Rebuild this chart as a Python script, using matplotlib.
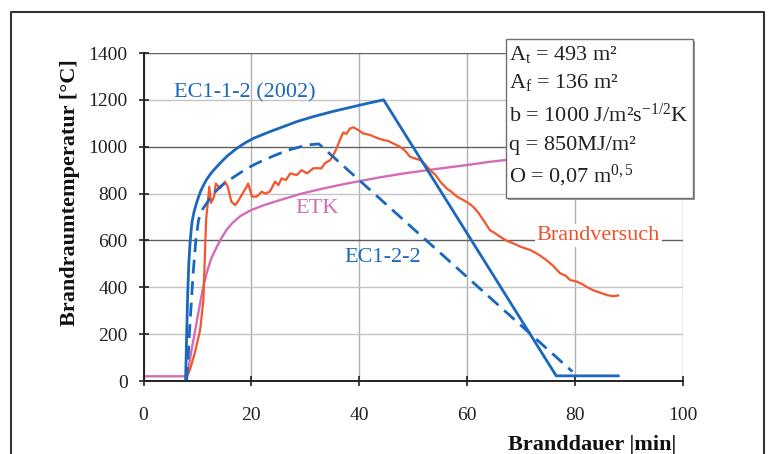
import matplotlib
matplotlib.use("Agg")
import matplotlib.pyplot as plt
from matplotlib.patches import Rectangle
from matplotlib.lines import Line2D

plt.rcParams['font.family'] = ['Liberation Serif', 'DejaVu Serif']
plt.rcParams['mathtext.fontset'] = 'custom'
plt.rcParams['mathtext.rm'] = 'Liberation Serif'
plt.rcParams['mathtext.it'] = 'Liberation Serif:italic'
plt.rcParams['mathtext.bf'] = 'Liberation Serif:bold'
plt.rcParams['lines.scale_dashes'] = False

# ---------------- data ----------------
etk_t = [0, 8, 8.3, 8.6, 9.0, 9.5, 10.0, 10.5, 11.1, 11.7, 12.5, 13.6, 14.5, 15.4, 16.5, 18,
         20, 22.5, 25, 29, 33, 36, 40, 44, 48, 52, 56, 60, 64, 67, 71, 75, 80, 88]
etk_T = [20, 20, 50, 90, 145, 205, 270, 333, 405, 460, 520, 573, 612, 645, 675, 705,
         730, 752, 770, 798, 820, 835, 853, 870, 885, 898, 910, 922, 935, 943, 952, 960, 970, 985]

versuch_t = [8, 8.6, 9.5, 10.5, 11.1, 11.6, 12.2, 12.5, 13.1, 13.4, 14.2, 15.1, 15.6, 16.3, 17.0,
             17.6, 18.2, 19.1, 19.4, 20.1, 21.0, 21.9, 22.6, 23.4, 24.4, 25.0, 25.6, 26.4, 27.2,
             28.4, 29.3, 30.3, 31.5, 33.0, 33.6, 34.6, 35.2, 35.8, 36.4, 37.0, 37.6, 38.3, 38.9,
             39.8, 40.7, 42.0, 43.0, 44.4, 45.3, 46.3, 47.5, 48.4, 49.4, 50.3, 51.3, 52.2, 53.1,
             54.1, 55.0, 56.2, 57.2, 58.1, 59.3, 60.2, 61.1, 62.0, 63.0, 64.2, 65.2, 66.1, 67.2,
             68.5, 70.0, 71.7, 73.2, 74.7, 76.0, 77.2, 78.2, 79.1, 80.2, 81.2, 82.3, 83.3, 84.5,
             85.9, 87.0, 88.0]
versuch_T = [18, 47, 119, 218, 346, 687, 829, 760, 787, 843, 822, 851, 830, 765, 751,
             770, 794, 829, 843, 787, 787, 808, 800, 808, 851, 836, 865, 858, 886,
             879, 900, 886, 908, 908, 929, 943, 965, 993, 1029, 1060, 1055, 1078, 1083,
             1071, 1057, 1050, 1040, 1029, 1025, 1014, 1000, 985, 957, 950, 943, 925, 900,
             880, 851, 822, 805, 787, 772, 760, 744, 720, 687, 644, 630, 616, 600,
             588, 572, 559, 540, 516, 490, 460, 450, 431, 425, 415, 400, 388, 378,
             367, 362, 365]

ec112_t = [7.8, 8.0, 8.2, 8.4, 8.6, 8.8, 9.0, 9.4, 9.9, 10.5, 11.1, 11.7, 12.4, 13.0, 14.2,
           15.5, 17.3, 18.8, 20.4, 23.4, 25.5, 28.4, 31.4, 35.0, 38.9, 41.5, 44.5, 76.5, 88.0]
ec112_T = [0, 200, 380, 500, 580, 635, 680, 725, 765, 805, 835, 860, 883, 900, 930,
           960, 993, 1016, 1036, 1064, 1082, 1107, 1128, 1150, 1171, 1185, 1200, 22, 22]

ec122_t = [8.0, 8.3, 8.5, 8.9, 9.2, 9.7, 10.2, 10.6, 11.0, 11.7, 12.3, 13.0, 14.2, 15.7, 17.3,
           19.0, 21.0, 23.0, 25.3, 27.5, 29.6, 31.0, 32.5, 79.5]
ec122_T = [0, 110, 200, 350, 460, 600, 687, 715, 735, 758, 780, 800, 829, 855, 879,
           905, 929, 950, 972, 990, 1003, 1009, 1012, 40]

xticks = [0, 20, 40, 60, 80, 100]
yticks = [0, 200, 400, 600, 800, 1000, 1200, 1400]
dark_grid = [600, 1000, 1400]

info_lines = [r"A$_\mathrm{t}$ = 493 m²",
              r"A$_\mathrm{f}$ = 136 m²",
              r"b = 1000 J/m²s$^{\mathrm{-1/2}}$K",
              r"q = 850MJ/m²",
              r"O = 0,07 m$^{\mathrm{0,5}}$"]

# ---------------- colours ----------------
BLUE = '#1a68bd'
RED = '#f4562c'
PINK = '#d36cb8'

W, H = 768, 454
fig = plt.figure(figsize=(W / 100, H / 100), dpi=100)
ax = fig.add_axes([143.5 / W, 1 - 381 / H, 539.5 / W, 328 / H])

ax.plot(etk_t, etk_T, color=PINK, lw=1.7, zorder=3)
ax.plot(versuch_t, versuch_T, color=RED, lw=1.6, zorder=4)
ax.plot(ec122_t, ec122_T, color=BLUE, lw=2.0, dashes=(10.0, 5.5), zorder=5)
ax.plot(ec112_t, ec112_T, color=BLUE, lw=2.0, zorder=6)

ax.set_xlim(0, 100)
ax.set_ylim(0, 1400)
ax.set_xticks(xticks)
ax.set_yticks(yticks)
ax.tick_params(direction='inout', length=7, width=1.2, labelsize=14, colors='#222222')
ax.tick_params(axis='y', pad=8.0)
ax.tick_params(axis='x', pad=15.5)
for s in ['top', 'right']:
    ax.spines[s].set_visible(False)
for s in ['left', 'bottom']:
    ax.spines[s].set_linewidth(1.4)
    ax.spines[s].set_color('#222222')
    ax.spines[s].set_zorder(7)

ax.grid(True, zorder=0)
for v, gl in zip(yticks, ax.get_ygridlines()):
    gl.set_color('#606060' if v in dark_grid else '#c4c4c4')
    gl.set_linewidth(1.0)
for gl in ax.get_xgridlines():
    gl.set_color('#b0b0b0')
    gl.set_linewidth(1.0)
ax.set_axisbelow(True)

ax.text(5.65, 1229, "EC1-1-2 (2002)", color=BLUE, fontsize=16, ha='left', va='center')
ax.text(28.1, 738, "ETK", color='#d070b0', fontsize=16, ha='left', va='center')
ax.text(37.3, 525, "EC1-2-2", color=BLUE, fontsize=16, ha='left', va='center')
ax.text(72.9, 623, "Brandversuch", color='#f0502a', fontsize=16, ha='left', va='center',
        bbox=dict(facecolor='white', edgecolor='none', pad=1.5))

fig.text(70 / W, 1 - 193 / H, "Brandraumtemperatur [°C]", rotation=90, fontsize=16,
         fontweight='bold', ha='center', va='center', color='#111111')
fig.text(676 / W, 1 - 450 / H, "Branddauer |min|", fontsize=16, fontweight='bold',
         ha='right', va='baseline', color='#111111')

# info box with slight shadow
fig.add_artist(Rectangle((508 / W, 1 - 200 / H), 187 / W, 159 / H, transform=fig.transFigure,
                         facecolor='#9a9a9a', edgecolor='none', zorder=8))
fig.add_artist(Rectangle((506 / W, 1 - 198 / H), 187 / W, 159 / H, transform=fig.transFigure,
                         facecolor='white', edgecolor='#707070', lw=1.0, zorder=9))
baselines = [60, 88, 122, 150, 182]
for txt, yb in zip(info_lines, baselines):
    fig.text(509 / W, 1 - yb / H, txt, fontsize=16, ha='left', va='baseline',
             color='#222222', zorder=10)

# outer frame (left, top, right)
fig.add_artist(Line2D([11 / W, 11 / W, 764 / W, 764 / W], [0, 1 - 12 / H, 1 - 12 / H, 0],
                      transform=fig.transFigure, color='#333333', lw=1.5, zorder=11))

fig.savefig("out.png", dpi=100)
